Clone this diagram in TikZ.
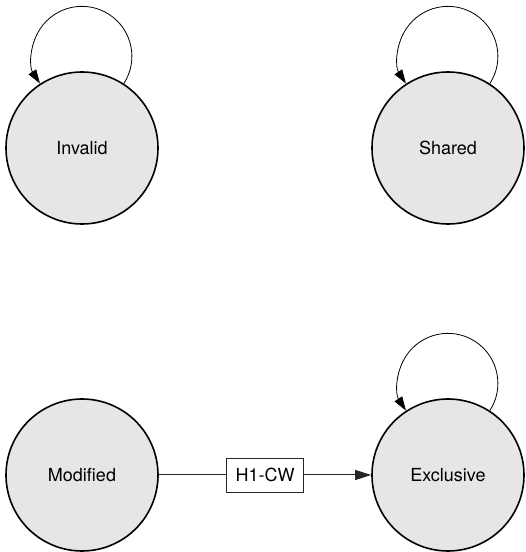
\documentclass[tikz,border=0pt]{standalone}
\usepackage{fontspec}
\setmainfont{TeX Gyre Heros}
\usetikzlibrary{arrows.meta}
\definecolor{stategray}{HTML}{E6E6E6}
\begin{document}
\begin{tikzpicture}[x=1pt,y=1pt,
  state/.style={circle, draw, line width=1.6pt, fill=stategray, minimum size=152pt, inner sep=0pt, font=\fontsize{18}{22}\selectfont},
  selfloop/.style={draw, line width=0.8pt, -{Triangle[length=14pt,width=9pt]}},
  conn/.style={draw=black!85, line width=1pt, -{Triangle[length=16pt,width=10pt]}},
  edgelabel/.style={draw, fill=white, line width=0.8pt, minimum width=77pt, minimum height=34pt, inner sep=0pt, font=\fontsize{18}{22}\selectfont}
]
\useasboundingbox (0,0) rectangle (526,552);
\node[state] (inv) at (82,404) {Invalid};
\node[state] (sha) at (448,404) {Shared};
\node[state] (mod) at (82,77) {Modified};
\node[state] (exc) at (448,77) {Exclusive};
\draw[selfloop] (inv.57) arc[start angle=-33, end angle=213, radius=50pt];
\draw[selfloop] (sha.57) arc[start angle=-33, end angle=213, radius=50pt];
\draw[selfloop] (exc.57) arc[start angle=-33, end angle=213, radius=50pt];
\draw[conn] (mod) -- node[edgelabel] (lbl) {H1-CW} (exc);
\end{tikzpicture}
\end{document}
